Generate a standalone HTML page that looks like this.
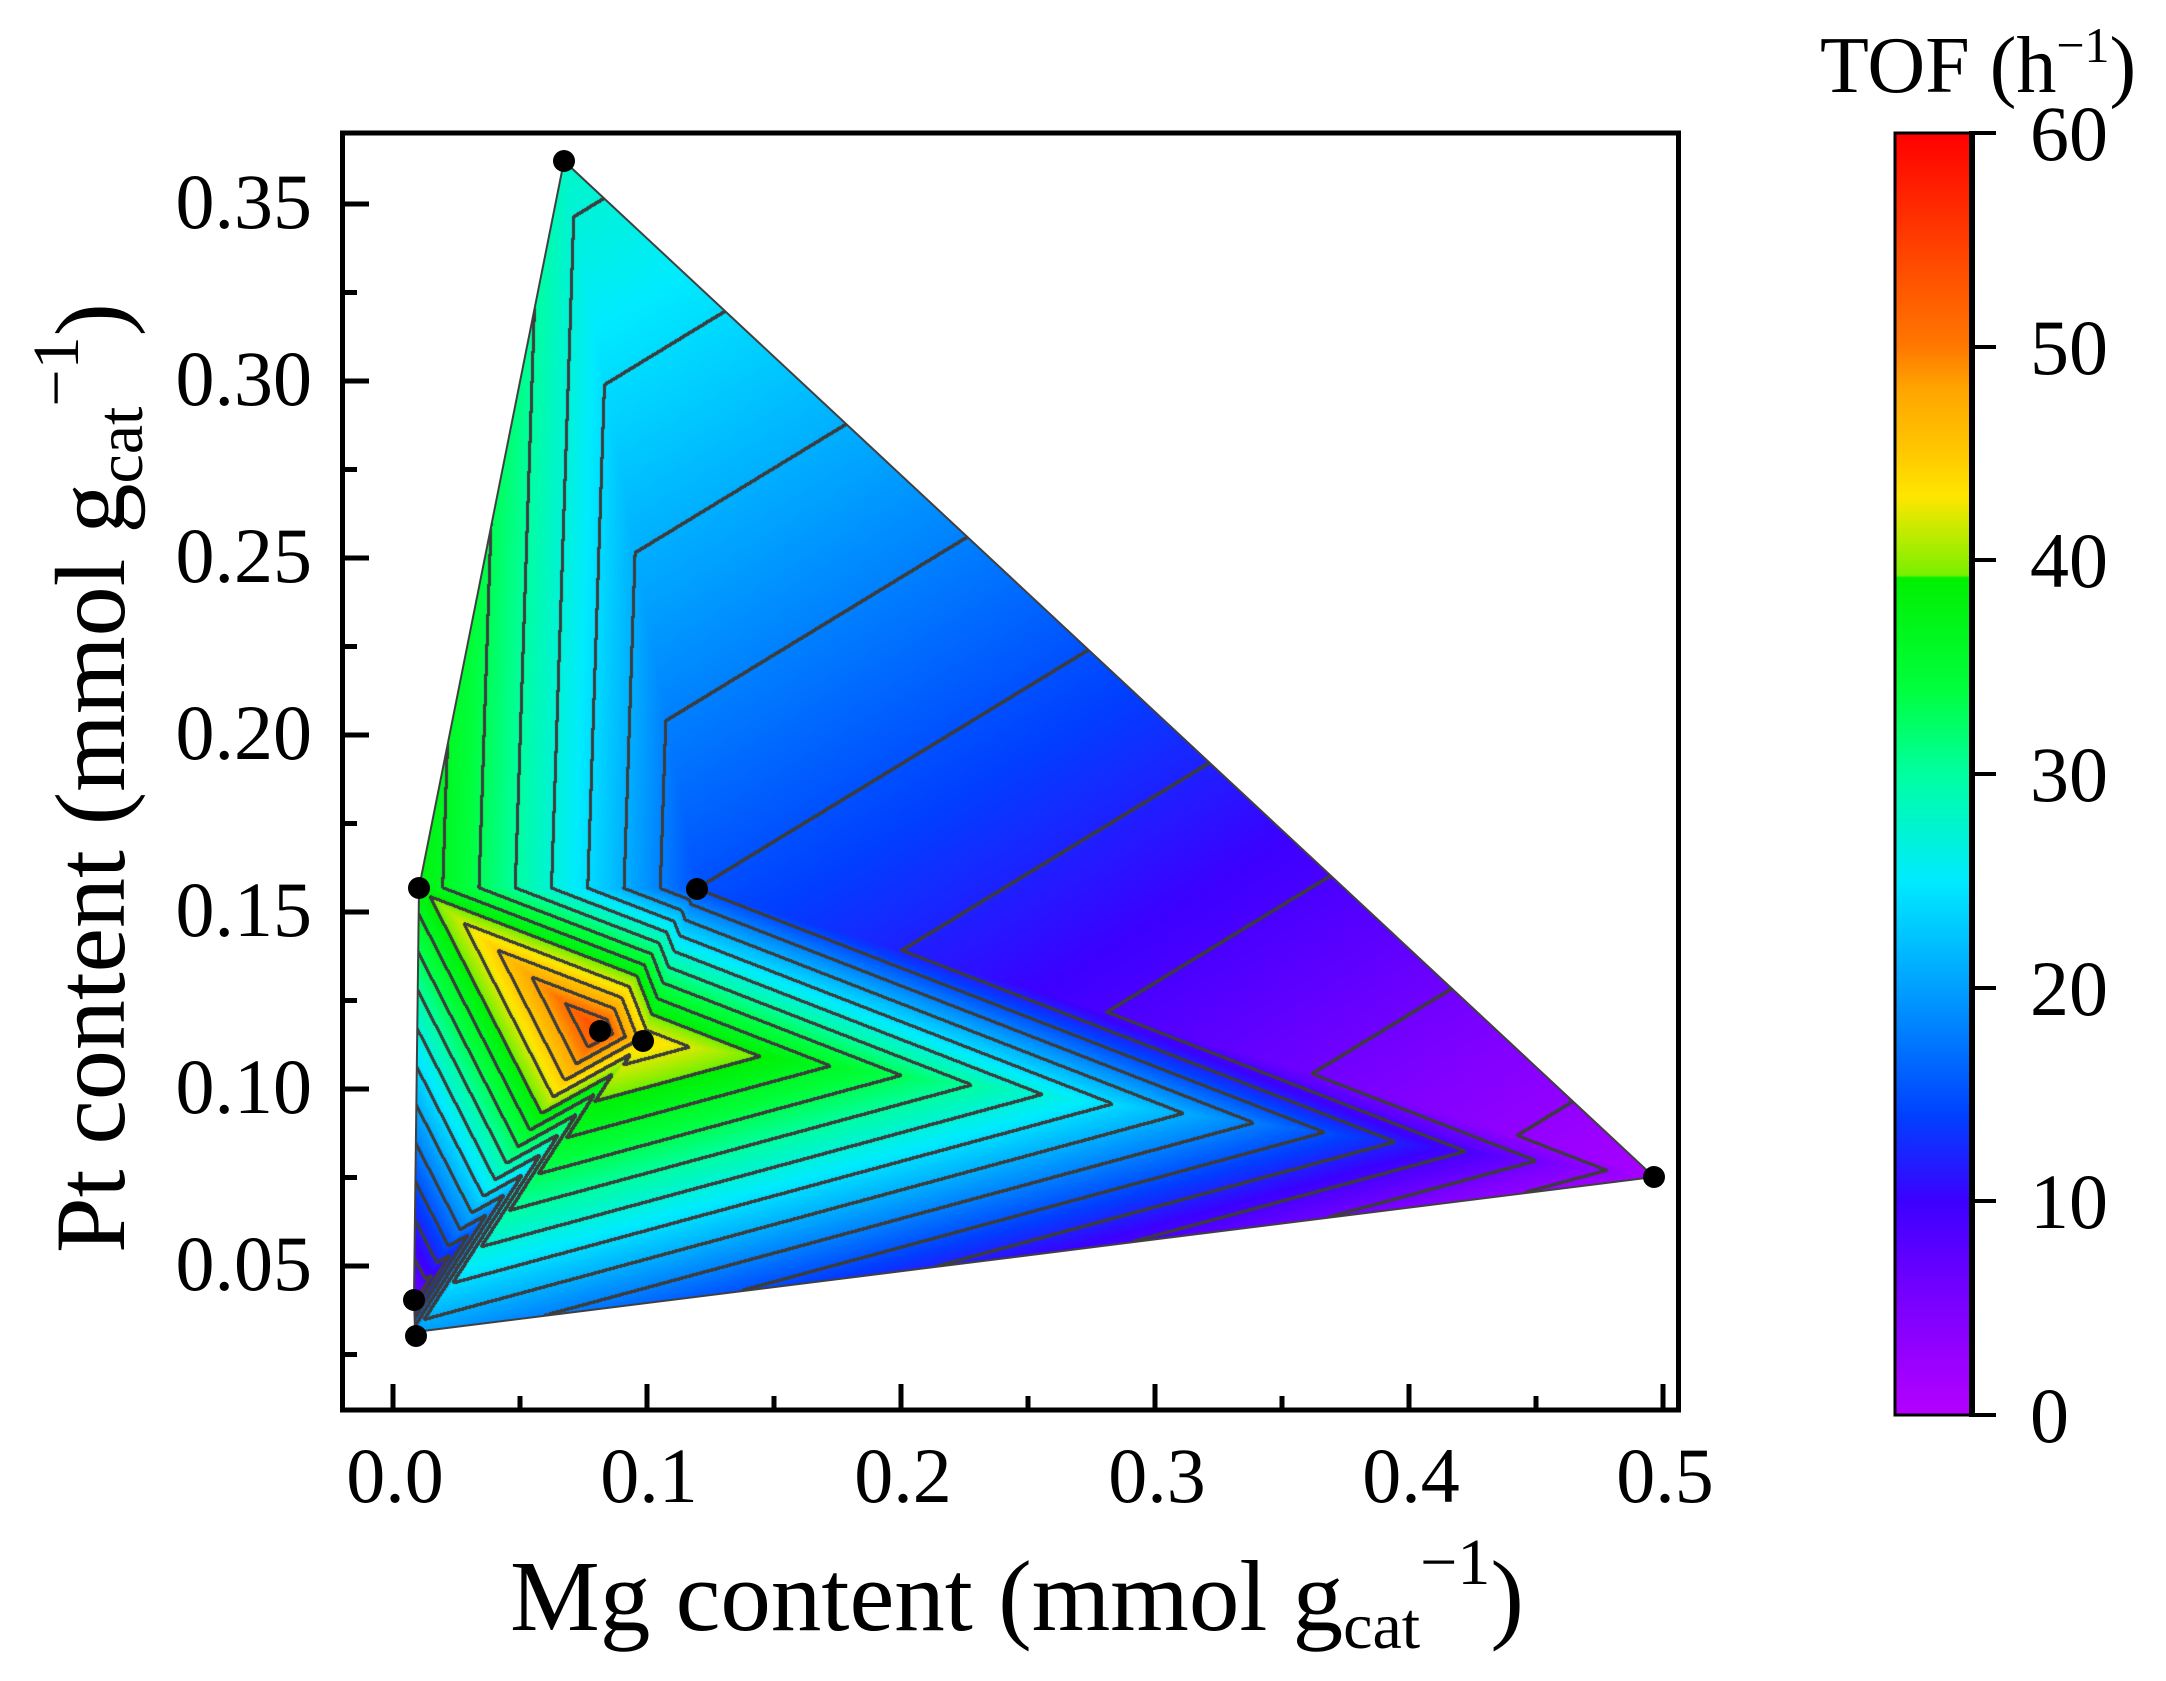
<!DOCTYPE html>
<html><head><meta charset="utf-8"><style>
html,body{margin:0;padding:0;background:#fff;}
#wrap{position:relative;width:2166px;height:1681px;overflow:hidden;}
canvas,svg{position:absolute;left:0;top:0;}
text{font-family:"Liberation Serif",serif;fill:#000;}
</style></head><body><div id="wrap">
<canvas id="c" width="2166" height="1681"></canvas>
<svg width="2166" height="1681" viewBox="0 0 2166 1681" xmlns="http://www.w3.org/2000/svg">
<defs>
<linearGradient id="cb" x1="0" y1="1" x2="0" y2="0">
<stop offset="0" stop-color="rgb(180,0,255)"/>
<stop offset="0.0833" stop-color="rgb(125,0,255)"/>
<stop offset="0.1667" stop-color="rgb(60,0,255)"/>
<stop offset="0.2333" stop-color="rgb(0,64,255)"/>
<stop offset="0.3333" stop-color="rgb(0,160,255)"/>
<stop offset="0.4167" stop-color="rgb(0,235,255)"/>
<stop offset="0.5" stop-color="rgb(0,255,160)"/>
<stop offset="0.5667" stop-color="rgb(0,255,60)"/>
<stop offset="0.653" stop-color="rgb(0,240,0)"/>
<stop offset="0.655" stop-color="rgb(120,240,0)"/>
<stop offset="0.7167" stop-color="rgb(255,230,0)"/>
<stop offset="0.75" stop-color="rgb(255,200,0)"/>
<stop offset="0.8" stop-color="rgb(255,165,0)"/>
<stop offset="0.8333" stop-color="rgb(255,120,0)"/>
<stop offset="0.9167" stop-color="rgb(255,60,0)"/>
<stop offset="1" stop-color="rgb(255,0,0)"/>
</linearGradient>
</defs>
<polygon points="564,161 1654,1177 415,1332 414,1296 419,888" fill="none" stroke="#404040" stroke-width="2"/>
<g fill="#000">
<circle cx="564" cy="161" r="11"/><circle cx="419" cy="888" r="11"/><circle cx="697" cy="889" r="11"/>
<circle cx="600" cy="1031" r="11"/><circle cx="643" cy="1041" r="11"/><circle cx="414" cy="1300" r="11"/>
<circle cx="416" cy="1336" r="11"/><circle cx="1654" cy="1177" r="11"/>
</g>
<rect x="342.5" y="133" width="1336" height="1277" fill="none" stroke="#000" stroke-width="5"/>
<g stroke="#000" stroke-width="5">
<line x1="345" y1="204" x2="369" y2="204"/><line x1="345" y1="381" x2="369" y2="381"/>
<line x1="345" y1="558" x2="369" y2="558"/><line x1="345" y1="735" x2="369" y2="735"/>
<line x1="345" y1="912" x2="369" y2="912"/><line x1="345" y1="1089" x2="369" y2="1089"/>
<line x1="345" y1="1266" x2="369" y2="1266"/>
<line x1="345" y1="292.5" x2="357" y2="292.5"/><line x1="345" y1="469.5" x2="357" y2="469.5"/>
<line x1="345" y1="646.5" x2="357" y2="646.5"/><line x1="345" y1="823.5" x2="357" y2="823.5"/>
<line x1="345" y1="1000.5" x2="357" y2="1000.5"/><line x1="345" y1="1177.5" x2="357" y2="1177.5"/>
<line x1="345" y1="1354.5" x2="357" y2="1354.5"/>
<line x1="393" y1="1408" x2="393" y2="1384"/><line x1="647" y1="1408" x2="647" y2="1384"/>
<line x1="901" y1="1408" x2="901" y2="1384"/><line x1="1155" y1="1408" x2="1155" y2="1384"/>
<line x1="1409" y1="1408" x2="1409" y2="1384"/><line x1="1663" y1="1408" x2="1663" y2="1384"/>
<line x1="520" y1="1408" x2="520" y2="1396"/><line x1="774" y1="1408" x2="774" y2="1396"/>
<line x1="1028" y1="1408" x2="1028" y2="1396"/><line x1="1282" y1="1408" x2="1282" y2="1396"/>
<line x1="1536" y1="1408" x2="1536" y2="1396"/>
</g>
<g font-size="78" text-anchor="end">
<text x="312" y="228">0.35</text><text x="312" y="405">0.30</text><text x="312" y="582">0.25</text>
<text x="312" y="759">0.20</text><text x="312" y="936">0.15</text><text x="312" y="1113">0.10</text>
<text x="312" y="1290">0.05</text>
</g>
<g font-size="78" text-anchor="middle">
<text x="395" y="1502">0.0</text><text x="649" y="1502">0.1</text><text x="903" y="1502">0.2</text>
<text x="1157" y="1502">0.3</text><text x="1411" y="1502">0.4</text><text x="1665" y="1502">0.5</text>
</g>
<text x="1017" y="1630" font-size="101" text-anchor="middle">Mg content (mmol g<tspan font-size="66" dy="18">cat</tspan><tspan font-size="66" dy="-64">−1</tspan><tspan dy="46">)</tspan></text>
<text transform="translate(124,778) rotate(-90)" x="0" y="0" font-size="100" text-anchor="middle">Pt content (mmol g<tspan font-size="66" dy="18">cat</tspan><tspan font-size="66" dy="-64">−1</tspan><tspan dy="46">)</tspan></text>
<rect x="1895" y="133" width="77" height="1282" fill="url(#cb)" stroke="#000" stroke-width="3"/>
<line x1="1972" y1="131" x2="1972" y2="1417" stroke="#000" stroke-width="6"/>
<g stroke="#000" stroke-width="4">
<line x1="1972" y1="133" x2="1996" y2="133"/><line x1="1972" y1="347" x2="1996" y2="347"/>
<line x1="1972" y1="560" x2="1996" y2="560"/><line x1="1972" y1="774" x2="1996" y2="774"/>
<line x1="1972" y1="988" x2="1996" y2="988"/><line x1="1972" y1="1201" x2="1996" y2="1201"/>
<line x1="1972" y1="1415" x2="1996" y2="1415"/>
</g>
<g font-size="78">
<text x="2030" y="160">60</text><text x="2030" y="374">50</text><text x="2030" y="587">40</text>
<text x="2030" y="801">30</text><text x="2030" y="1015">20</text><text x="2030" y="1228">10</text>
<text x="2030" y="1442">0</text>
</g>
<text x="1820" y="92" font-size="80">TOF (h<tspan font-size="50" dy="-30">−1</tspan><tspan dy="30">)</tspan></text>
</svg>
</div>
<script>
(function(){
var W=2166,H=1681;
var V=[[564,161,28],[419,888,38],[697,889,15],[600,1031,54],[643,1041,44],[414,1296,6],[415,1332,20],[1654,1177,1]];
var T=[[0,1,2],[0,2,7],[1,3,2],[2,3,4],[2,4,7],[1,5,3],[5,4,3],[5,6,4],[6,7,4]];
var S=[[0,180,0,255],[5,125,0,255],[10,60,0,255],[14,0,64,255],[20,0,160,255],[25,0,235,255],[30,0,255,160],[34,0,255,60],[39.2,0,240,0],[39.3,120,240,0],[43,255,230,0],[45,255,200,0],[48,255,165,0],[50,255,120,0],[55,255,60,0],[60,255,0,0]];
function cm(v){if(v<=0)return S[0];for(var i=1;i<S.length;i++){if(v<=S[i][0]){var a=S[i-1],b=S[i],t=(v-a[0])/(b[0]-a[0]);return [0,a[1]+(b[1]-a[1])*t,a[2]+(b[2]-a[2])*t,a[3]+(b[3]-a[3])*t];}}return S[S.length-1];}
var val=new Float32Array(W*H);for(var i=0;i<val.length;i++)val[i]=NaN;
T.forEach(function(t){var a=V[t[0]],b=V[t[1]],c=V[t[2]];
var x0=Math.floor(Math.min(a[0],b[0],c[0])),x1=Math.ceil(Math.max(a[0],b[0],c[0]));
var y0=Math.floor(Math.min(a[1],b[1],c[1])),y1=Math.ceil(Math.max(a[1],b[1],c[1]));
var d=(b[1]-c[1])*(a[0]-c[0])+(c[0]-b[0])*(a[1]-c[1]);
for(var y=y0;y<=y1;y++)for(var x=x0;x<=x1;x++){var px=x+0.5,py=y+0.5;
var l1=((b[1]-c[1])*(px-c[0])+(c[0]-b[0])*(py-c[1]))/d;
var l2=((c[1]-a[1])*(px-c[0])+(a[0]-c[0])*(py-c[1]))/d;
var l3=1-l1-l2;
if(l1>=-1e-4&&l2>=-1e-4&&l3>=-1e-4){val[y*W+x]=l1*a[2]+l2*b[2]+l3*c[2];}}});
var ctx=document.getElementById('c').getContext('2d');
var img=ctx.createImageData(W,H),D=img.data;
var nb=[[-1,-1],[0,-1],[1,-1],[-1,0],[1,0],[-1,1],[0,1],[1,1],[2,0],[0,2],[2,1],[1,2]];
for(var y=1;y<H-2;y++)for(var x=1;x<W-2;x++){var k=y*W+x,v=val[k];if(v!==v)continue;
var bnd=Math.floor(v/3),line=false;
for(var j=0;j<nb.length;j++){var w=val[k+nb[j][1]*W+nb[j][0]];if(w===w&&Math.floor(w/3)!==bnd){line=true;break;}}
var p=k*4;if(line){D[p]=60;D[p+1]=60;D[p+2]=60;}else{var c=cm(v);D[p]=c[1];D[p+1]=c[2];D[p+2]=c[3];}D[p+3]=255;}
ctx.putImageData(img,0,0);
})();
</script>
</body></html>
